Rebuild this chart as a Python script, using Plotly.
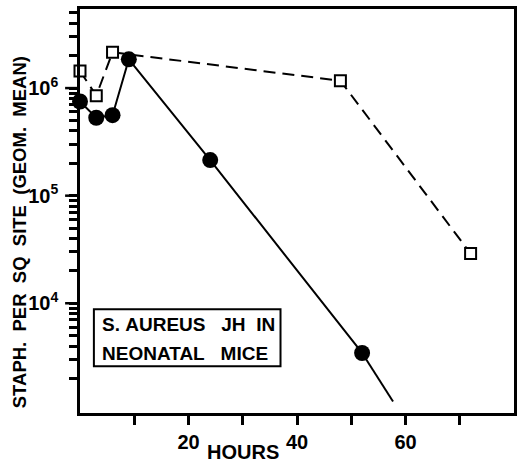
import math
import plotly.graph_objects as go

# Filled circles (solid line)
hours_circ = [0, 3, 6, 9, 24, 52]
staph_circ = [7.5e5, 5.3e5, 5.6e5, 1.85e6, 2.14e5, 3.45e3]
# extrapolated tail of the solid line (no marker)
hours_tail = [52, 57.7]
staph_tail = [3.45e3, 1.22e3]

# Open squares (dashed line)
hours_sq = [0, 3, 6, 48, 72]
staph_sq = [1.44e6, 8.5e5, 2.15e6, 1.17e6, 2.9e4]

x_tickvals = [10, 20, 30, 40, 50, 60, 70]
x_ticktext = ["", "<b>20</b>", "", "<b>40</b>", "", "<b>60</b>", ""]
y_major = [1e4, 1e5, 1e6]
y_major_text = ["<b>10<sup>4</sup></b>", "<b>10<sup>5</sup></b>", "<b>10<sup>6</sup></b>"]
y_minor = [m * 10 ** e for e in (3, 4, 5, 6) for m in range(2, 10) if m * 10 ** e < 5.5e6]

FONT = "Liberation Sans, Arial, sans-serif"
SP = "\u00a0"
Y_RANGE = [2.98, 6.735]
PLOT_W = 519 - 80 - 2

y_all = sorted(y_minor + y_major)
y_all_text = [y_major_text[y_major.index(v)] if v in y_major else "" for v in y_all]

fig = go.Figure()
fig.add_trace(go.Scatter(
    x=hours_sq, y=staph_sq, mode="lines+markers", cliponaxis=False,
    line=dict(color="black", width=2, dash="12px,7px"),
    marker=dict(symbol="square", size=11, color="white",
                line=dict(color="black", width=2)),
    showlegend=False))
fig.add_trace(go.Scatter(
    x=hours_tail, y=staph_tail, mode="lines",
    line=dict(color="black", width=2), showlegend=False))
fig.add_trace(go.Scatter(
    x=hours_circ, y=staph_circ, mode="lines+markers", cliponaxis=False,
    line=dict(color="black", width=2),
    marker=dict(symbol="circle", size=16, color="black"),
    showlegend=False))

fig.update_layout(
    width=519, height=465,
    margin=dict(l=80, r=2, t=9, b=52),
    paper_bgcolor="white", plot_bgcolor="white",
    font=dict(family=FONT, color="black", size=20),
    xaxis=dict(range=[0, 80], showgrid=False, zeroline=False,
               showline=True, mirror=True, linecolor="black", linewidth=2.5,
               ticks="outside", ticklen=9, tickwidth=2.5, tickcolor="black",
               tickmode="array", tickvals=x_tickvals, ticktext=x_ticktext,
               tickfont=dict(size=20)),
    yaxis=dict(type="log", range=Y_RANGE, showgrid=False, zeroline=False,
               showline=True, mirror=True, linecolor="black", linewidth=2.5,
               ticks="outside", ticklen=8, tickwidth=2.5, tickcolor="black",
               tickmode="array", tickvals=y_all, ticktext=y_all_text,
               ticklabelstandoff=7, tickfont=dict(size=20)),
)

# longer tick marks for the labelled decades
for v in y_major:
    frac = (math.log10(v) - Y_RANGE[0]) / (Y_RANGE[1] - Y_RANGE[0])
    fig.add_shape(type="line", xref="paper", yref="paper",
                  x0=-15 / PLOT_W, x1=0, y0=frac, y1=frac,
                  line=dict(color="black", width=2.5))

fig.add_shape(type="rect", xref="paper", yref="paper",
              x0=0.032, x1=0.462, y0=0.116, y1=0.257,
              line=dict(color="black", width=2), fillcolor="white", layer="above")
fig.add_annotation(xref="paper", yref="paper", x=0.046, y=0.218,
                   xanchor="left", yanchor="middle", showarrow=False,
                   text="<b>S." + SP + "AUREUS" + SP * 3 + "JH" + SP * 2 + "IN</b>",
                   font=dict(size=19))
fig.add_annotation(xref="paper", yref="paper", x=0.046, y=0.1485,
                   xanchor="left", yanchor="middle", showarrow=False,
                   text="<b>NEONATAL" + SP * 3 + "MICE</b>",
                   font=dict(size=19))
fig.add_annotation(xref="paper", yref="paper", x=0.375, y=-0.1287,
                   xanchor="center", yanchor="bottom", showarrow=False,
                   text="<b>HOURS</b>", font=dict(size=20))
fig.add_annotation(xref="paper", yref="paper", x=-0.140, y=0.448,
                   xanchor="center", yanchor="middle", showarrow=False,
                   textangle=-90,
                   text="<b>" + (SP * 2).join(["STAPH.", "PER", "SQ", "SITE", "(GEOM.", "MEAN)"]) + "</b>",
                   font=dict(size=18.5))

fig.write_html("out.html")
